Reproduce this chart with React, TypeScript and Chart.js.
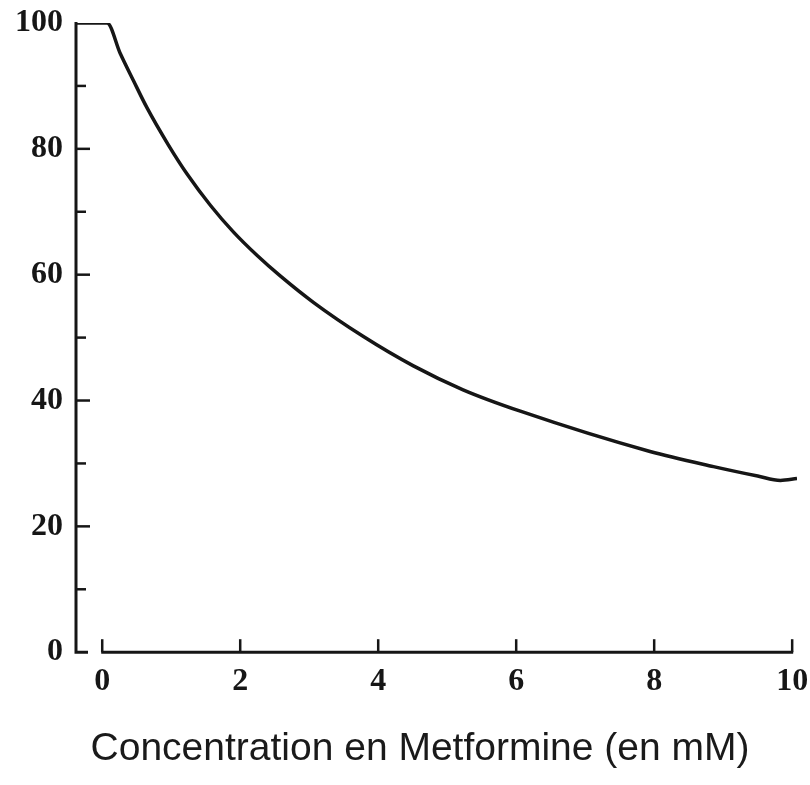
import React, { useEffect, useRef } from "react";
import { Chart, registerables } from "chart.js";

Chart.register(...registerables);

// Curve (x in mM, y in %)
const concentration = [-0.38, 0.07, 0.26, 0.45, 0.65, 0.96, 1.23, 1.57, 1.9, 2.25, 2.58, 3.06, 3.78, 4.51, 5.23, 6.06, 7.94, 8.86, 9.5, 9.83, 10.07];
const response = [100, 100, 95.2, 90.9, 86.5, 80.6, 76.0, 71.0, 66.8, 63.0, 59.8, 55.6, 50.2, 45.5, 41.7, 38.3, 31.9, 29.5, 28.0, 27.3, 27.6];

const xTicks = [0, 2, 4, 6, 8, 10];
const yMajorTicks = [0, 20, 40, 60, 80, 100];
const yMinorTicks = [10, 30, 50, 70, 90];
const xMin = -0.38;
const xMax = 10.07;
const axisTitle = "Concentration en Metformine (en mM)";

const INK = "#161616";
const TICK_FONT = { family: "'Liberation Serif', 'Times New Roman', serif", size: 32, weight: "bold" };

const handAxes = {
  id: "handAxes",
  afterDraw(chart: any) {
    const { ctx } = chart;
    const x = chart.scales.x;
    const y = chart.scales.y;
    const ax = x.getPixelForValue(xMin);
    const y0 = y.getPixelForValue(0);
    const y100 = y.getPixelForValue(100);
    ctx.save();
    ctx.strokeStyle = INK;
    ctx.lineWidth = 3;
    ctx.lineCap = "butt";
    // y axis with foot
    ctx.beginPath();
    ctx.moveTo(ax, y100 - 1);
    ctx.lineTo(ax, y0);
    ctx.lineTo(ax + 12, y0);
    ctx.stroke();
    // y ticks (inward)
    ctx.lineWidth = 2.5;
    yMajorTicks.forEach((v) => {
      if (v === 0 || v === 100) return;
      const py = y.getPixelForValue(v);
      ctx.beginPath();
      ctx.moveTo(ax, py);
      ctx.lineTo(ax + 14, py);
      ctx.stroke();
    });
    yMinorTicks.forEach((v) => {
      const py = y.getPixelForValue(v);
      ctx.beginPath();
      ctx.moveTo(ax, py);
      ctx.lineTo(ax + 10, py);
      ctx.stroke();
    });
    // x axis
    const xa = x.getPixelForValue(0);
    const xb = x.getPixelForValue(10);
    ctx.lineWidth = 3;
    ctx.beginPath();
    ctx.moveTo(xa - 1, y0);
    ctx.lineTo(xb + 1, y0);
    ctx.stroke();
    ctx.lineWidth = 2.5;
    xTicks.forEach((v) => {
      const px = x.getPixelForValue(v);
      ctx.beginPath();
      ctx.moveTo(px, y0);
      ctx.lineTo(px, y0 - 13);
      ctx.stroke();
    });
    ctx.restore();
  },
};

export default function App() {
  const ref = useRef<HTMLCanvasElement>(null);

  useEffect(() => {
    if (!ref.current) return;
    const chart = new Chart(ref.current, {
      type: "line",
      data: {
        datasets: [
          {
            data: concentration.map((c, i) => ({ x: c, y: response[i] })),
            borderColor: INK,
            borderWidth: 3.5,
            pointRadius: 0,
            fill: false,
            cubicInterpolationMode: "monotone",
          },
        ],
      },
      options: {
        responsive: false,
        animation: false,
        devicePixelRatio: 1,
        layout: { padding: { left: 0, right: 0, top: 23, bottom: 0 } },
        plugins: {
          legend: { display: false },
          tooltip: { enabled: false },
          title: {
            display: true,
            position: "bottom",
            text: axisTitle,
            color: "#1a1a1a",
            font: { family: "'Liberation Sans', Arial, sans-serif", size: 39, weight: "normal" },
            padding: { top: 14, bottom: 12 },
          },
        },
        scales: {
          x: {
            type: "linear",
            min: xMin,
            max: xMax,
            grid: { display: false, drawTicks: false, tickLength: 0 },
            border: { display: false },
            afterBuildTicks: (s: any) => {
              s.ticks = xTicks.map((v) => ({ value: v }));
            },
            afterFit: (s: any) => {
              s.height = 60;
              s.paddingLeft = 0;
              s.paddingRight = 0;
            },
            ticks: {
              autoSkip: false,
              maxRotation: 0,
              padding: 10,
              color: INK,
              font: TICK_FONT,
            },
          },
          y: {
            type: "linear",
            position: "left",
            min: 0,
            max: 100,
            grid: { display: false, drawTicks: false, tickLength: 0 },
            border: { display: false },
            afterBuildTicks: (s: any) => {
              s.ticks = yMajorTicks.map((v) => ({ value: v }));
            },
            afterFit: (s: any) => {
              s.width = 76;
              s.paddingTop = 0;
              s.paddingBottom = 0;
            },
            ticks: {
              padding: 13,
              color: INK,
              font: TICK_FONT,
            },
          },
          yRight: {
            type: "linear",
            position: "right",
            min: 0,
            max: 100,
            grid: { display: false, drawTicks: false },
            border: { display: false },
            ticks: { display: false },
            afterFit: (s: any) => {
              s.width = 43;
              s.paddingTop = 0;
              s.paddingBottom = 0;
            },
          },
        },
      },
      plugins: [handAxes],
    } as any);
    return () => chart.destroy();
  }, []);

  return (
    <div style={{ position: "fixed", left: 0, top: 0, width: 810, height: 785, overflow: "hidden", background: "#fff" }}>
      <canvas ref={ref} width={840} height={785} style={{ display: "block" }} />
    </div>
  );
}
